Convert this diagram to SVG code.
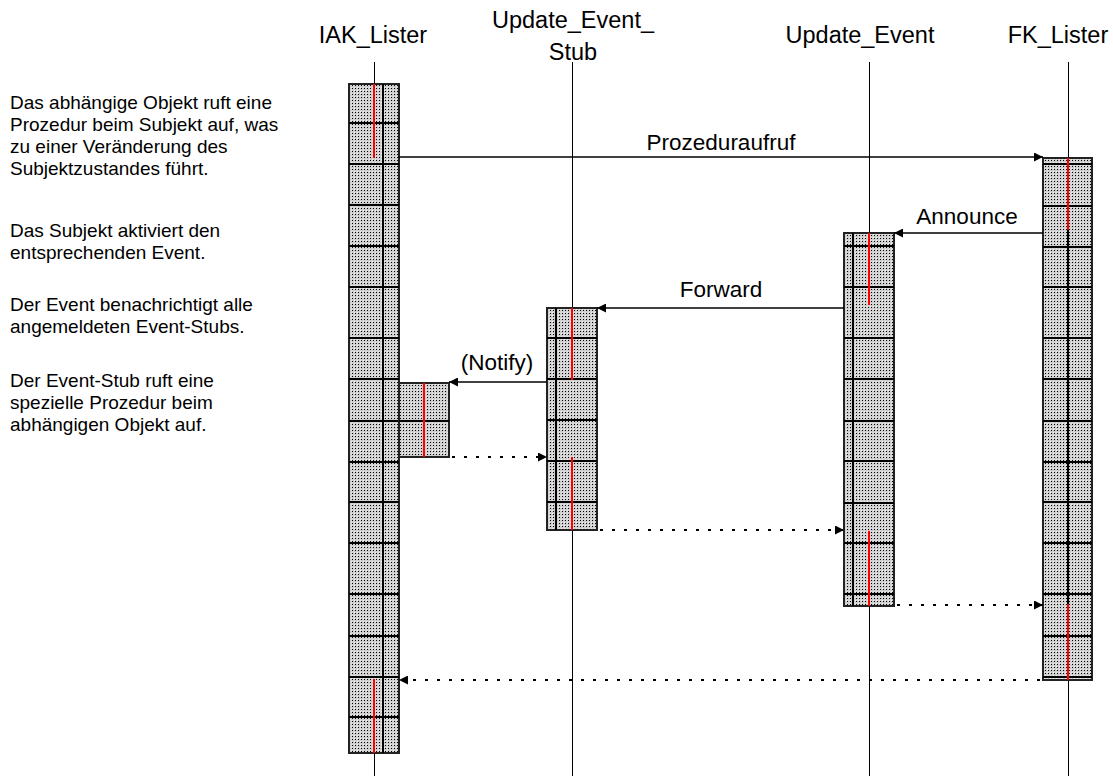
<svg xmlns="http://www.w3.org/2000/svg" width="1113" height="776" viewBox="0 0 1113 776">
<defs>
<pattern id="dots" width="3" height="3" patternUnits="userSpaceOnUse">
<rect width="3" height="3" fill="#cfcfcf"/>
<rect x="1" y="1" width="1" height="1" fill="#000"/>
<rect x="0" y="0" width="1" height="1" fill="#eeeeee"/>
</pattern>
<marker id="ah" viewBox="0 0 10 10" refX="10" refY="5" markerWidth="9" markerHeight="9" markerUnits="userSpaceOnUse" orient="auto">
<path d="M0,0 L10,5 L0,10 Z" fill="#000"/>
</marker>
<style>
.t{font-family:"Liberation Sans",Arial,sans-serif;fill:#000}
.hdr{font-size:23.5px;text-anchor:middle}
.lbl{font-size:22.5px;text-anchor:middle}
.note{font-size:19px}
.life{stroke:#000;stroke-width:1;fill:none;shape-rendering:crispEdges}
.box{fill:url(#dots);stroke:#222;stroke-width:1.5;shape-rendering:crispEdges}
.grid{stroke:#000;stroke-width:1.5;fill:none;shape-rendering:crispEdges}
.red{stroke:#f00;stroke-width:1.5;fill:none;shape-rendering:crispEdges}
.msg{stroke:#000;stroke-width:1.6;fill:none;marker-end:url(#ah)}
.ret{stroke:#000;stroke-width:2;fill:none;stroke-dasharray:3 9;marker-end:url(#ah)}
</style>
</defs>
<rect width="1113" height="776" fill="#fff"/>

<g id="notes" class="t note">
<text x="10" y="109">Das abhängige Objekt ruft eine</text>
<text x="10" y="131">Prozedur beim Subjekt auf, was</text>
<text x="10" y="153">zu einer Veränderung des</text>
<text x="10" y="175">Subjektzustandes führt.</text>
<text x="10" y="237">Das Subjekt aktiviert den</text>
<text x="10" y="259">entsprechenden Event.</text>
<text x="10" y="311">Der Event benachrichtigt alle</text>
<text x="10" y="333">angemeldeten Event-Stubs.</text>
<text x="10" y="387">Der Event-Stub ruft eine</text>
<text x="10" y="409">spezielle Prozedur beim</text>
<text x="10" y="431">abhängigen Objekt auf.</text>
</g>

<g id="lifelines">
<line class="life" x1="374" y1="62" x2="374" y2="776"/>
<line class="life" x1="572" y1="62" x2="572" y2="776"/>
<line class="life" x1="869" y1="62" x2="869" y2="776"/>
<line class="life" x1="1068" y1="62" x2="1068" y2="776"/>
</g>

<g id="IAK_Lister">
<text class="t hdr" x="373" y="43">IAK_Lister</text>
<rect class="box" x="349" y="84" width="50" height="669"/>
<path class="grid" d="M349,123H399M349,164H399M349,205H399M349,246H399M349,287H399M349,338H399M349,379H399M349,421H399M349,462H399M349,502H399M349,543H399M349,594H399M349,636H399M349,677H399M349,717H399M383,84V753"/>
<path class="red" d="M374,84V158M374,679V753"/>
</g>

<g id="IAK_Lister_callback">
<rect class="box" x="399" y="383" width="50" height="74"/>
<path class="grid" d="M399,421H449"/>
<path class="red" d="M424,383V457"/>
</g>

<g id="Update_Event_Stub">
<text class="t hdr" x="573" y="28">Update_Event_</text>
<text class="t hdr" x="573" y="60">Stub</text>
<rect class="box" x="547" y="308" width="50" height="222"/>
<path class="grid" d="M547,338H597M547,379H597M547,420H597M547,461H597M547,502H597M556,308V530"/>
<path class="red" d="M572,308V380M572,457V530"/>
</g>

<g id="Update_Event">
<text class="t hdr" x="860" y="43">Update_Event</text>
<rect class="box" x="844" y="233" width="50" height="373"/>
<path class="grid" d="M844,246H894M844,287H894M844,338H894M844,379H894M844,421H894M844,461H894M844,503H894M844,543H894M844,594H894M853,233V606"/>
<path class="red" d="M869,233V305M869,531V606"/>
</g>

<g id="FK_Lister">
<text class="t hdr" x="1058" y="43">FK_Lister</text>
<rect class="box" x="1043" y="158" width="49" height="522"/>
<path class="grid" d="M1043,164H1092M1043,206H1092M1043,247H1092M1043,287H1092M1043,338H1092M1043,379H1092M1043,421H1092M1043,462H1092M1043,502H1092M1043,543H1092M1043,594H1092M1043,636H1092M1043,677H1092M1068,230V604"/>
<path class="red" d="M1068,158V230M1068,604V680"/>
</g>

<g id="connectors">
<line class="msg" x1="399" y1="157" x2="1043" y2="157"/>
<text class="t lbl" x="721" y="150">Prozeduraufruf</text>
<line class="msg" x1="1043" y1="233" x2="894" y2="233"/>
<text class="t lbl" x="967" y="224">Announce</text>
<line class="msg" x1="844" y1="308" x2="597" y2="308"/>
<text class="t lbl" x="721" y="297">Forward</text>
<line class="msg" x1="547" y1="382" x2="449" y2="382"/>
<text class="t lbl" x="497" y="370">(Notify)</text>
<line class="ret" x1="452" y1="457" x2="547" y2="457"/>
<line class="ret" x1="600" y1="530" x2="844" y2="530"/>
<line class="ret" x1="897" y1="605" x2="1043" y2="605"/>
<line class="ret" x1="1040" y1="680" x2="399" y2="680"/>
</g>
</svg>
